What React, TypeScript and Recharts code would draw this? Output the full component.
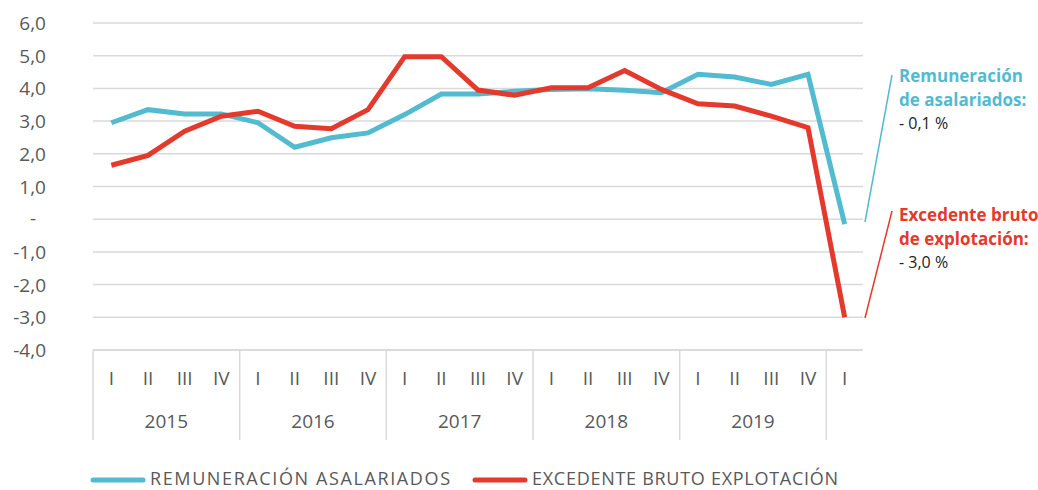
import React from 'react';
import { LineChart, Line, XAxis, YAxis, CartesianGrid } from 'recharts';

const years = ['2015', '2016', '2017', '2018', '2019', '2020'];
const quarterLabels = [
  'I', 'II', 'III', 'IV',
  'I', 'II', 'III', 'IV',
  'I', 'II', 'III', 'IV',
  'I', 'II', 'III', 'IV',
  'I', 'II', 'III', 'IV',
  'I',
];
const remuneracion = [
  2.95, 3.35, 3.22, 3.22,
  2.95, 2.2, 2.49, 2.64,
  3.2, 3.83, 3.83, 3.91,
  3.97, 3.99, 3.94, 3.87,
  4.43, 4.35, 4.12, 4.43,
  -0.15,
];
const excedente = [
  1.65, 1.95, 2.69, 3.15,
  3.3, 2.84, 2.77, 3.35,
  4.97, 4.97, 3.95, 3.79,
  4.02, 4.02, 4.55, 3.97,
  3.53, 3.46, 3.15, 2.8,
  -3.0,
];
const yTicks = [-4, -3, -2, -1, 0, 1, 2, 3, 4, 5, 6];

const data = quarterLabels.map((q, i) => ({
  key: `${years[Math.floor(i / 4)]}-${q}`,
  q,
  year: years[Math.floor(i / 4)],
  rem: remuneracion[i],
  exc: excedente[i],
}));

const BLUE = '#52bbd0';
const RED = '#e4392d';
const GREY = '#595959';
const FONT = '"Open Sans", sans-serif';

const W = 1038;
const H = 490;
const PLOT_LEFT = 93;
const PLOT_RIGHT = 863;
const BAND = (PLOT_RIGHT - PLOT_LEFT) / data.length;

const fmt = (v: number) => (v === 0 ? '-' : v.toFixed(1).replace('.', ','));

const YTick = (props: any) => {
  const { x, y, payload } = props;
  const v = payload.value;
  if (v === 0) {
    return (
      <text x={x - 60} y={y + 6} textAnchor="middle" fontSize={19} fill={GREY} fontFamily={FONT}>
        -
      </text>
    );
  }
  return (
    <text x={x - 47} y={y + 7} textAnchor="end" fontSize={19} fill={GREY} fontFamily={FONT}>
      {fmt(v)}
    </text>
  );
};

const QuarterTick = (props: any) => {
  const { x, y, payload } = props;
  const i = payload.index ?? props.index;
  const row = data[i];
  return (
    <g>
      <text x={x} y={y + 35} textAnchor="middle" fontSize={19} fill={GREY} fontFamily={FONT}>
        {row.q}
      </text>
      {i % 4 === 1 && row.year !== '2020' && (
        <text x={x + BAND / 2} y={y + 78} textAnchor="middle" fontSize={19} fill={GREY} fontFamily={FONT}>
          {row.year}
        </text>
      )}
      {i % 4 === 0 && (
        <line x1={x - BAND / 2} x2={x - BAND / 2} y1={y} y2={y + 90} stroke="#d9d9d9" strokeWidth={1.5} />
      )}
    </g>
  );
};

const App = () => {
  return (
    <div style={{ position: 'absolute', left: 0, top: 0, width: W, height: H, background: '#fff', fontFamily: FONT }}>
      <LineChart width={W} height={H} data={data} margin={{ top: 23, right: W - PLOT_RIGHT, left: 0, bottom: 0 }}>
        <CartesianGrid vertical={false} stroke="#d9d9d9" strokeWidth={1.5} />
        <XAxis
          dataKey="key"
          interval={0}
          height={140}
          padding={{ left: BAND / 2, right: BAND / 2 }}
          tickSize={0}
          tickMargin={0}
          tickLine={false}
          axisLine={{ stroke: '#d9d9d9', strokeWidth: 1.5 }}
          tick={<QuarterTick />}
        />
        <YAxis
          width={PLOT_LEFT}
          domain={[-4, 6]}
          ticks={yTicks}
          interval={0}
          tickSize={0}
          tickMargin={0}
          axisLine={false}
          tickLine={false}
          tick={<YTick />}
        />
        <Line type="linear" dataKey="rem" stroke={BLUE} strokeWidth={5} dot={false} isAnimationActive={false} />
        <Line type="linear" dataKey="exc" stroke={RED} strokeWidth={5} dot={false} isAnimationActive={false} />
      </LineChart>

      <svg width={W} height={H} style={{ position: 'absolute', left: 0, top: 0, pointerEvents: 'none' }}>
        <line x1={865} y1={222} x2={892} y2={75} stroke={BLUE} strokeWidth={1.5} />
        <line x1={865} y1={318} x2={892} y2={211} stroke={RED} strokeWidth={1.5} />
        <g fontFamily={FONT}>
          <text x={899} y={82} fontSize={17} fontWeight={700} fill={BLUE}>Remuneración</text>
          <text x={899} y={106} fontSize={17} fontWeight={700} fill={BLUE}>de asalariados:</text>
          <text x={899} y={129} fontSize={16} fill="#222">- 0,1 %</text>
          <text x={899} y={221} fontSize={17} fontWeight={700} fill={RED}>Excedente bruto</text>
          <text x={899} y={245} fontSize={17} fontWeight={700} fill={RED}>de explotación:</text>
          <text x={899} y={268} fontSize={16} fill="#222">- 3,0 %</text>
        </g>
        <g fontFamily={FONT} fontSize={18} fill={GREY}>
          <line x1={93} x2={143} y1={480} y2={480} stroke={BLUE} strokeWidth={5} strokeLinecap="round" />
          <text x={150} y={485} textLength={300}>REMUNERACIÓN ASALARIADOS</text>
          <line x1={475} x2={525} y1={480} y2={480} stroke={RED} strokeWidth={5} strokeLinecap="round" />
          <text x={532} y={485} textLength={306}>EXCEDENTE BRUTO EXPLOTACIÓN</text>
        </g>
      </svg>
    </div>
  );
};

export default App;
